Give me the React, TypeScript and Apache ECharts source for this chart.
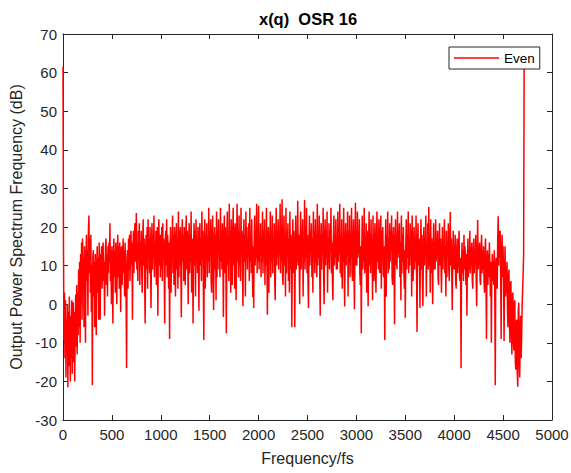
import React, { useEffect, useRef } from "react";
import * as echarts from "echarts";

// Spectrum sampled every FREQ_STEP units of frequency (x = index * step)
const FREQ_STEP = 5;
const powerDb: number[] = [
  // 0 - 195
  61.5, 14, -9.3, 3, -14, 1, -19, -4, -12, 0,
  -21.5, -2, -16, 2, -8, -20, -3, -14, 1, -18,
  -6, 0.5, -15, -2, -20, -5, 2.5, -11, 5, -13,
  3, -8, 9, -6, 11, -10, 13, 0, 16, -4,
  // 200 - 395
  17, 4, 12, -6, 15, 2, -10, 11, 18, 6,
  14, -3, 19, 23, 8, 17, 3, 18, -2, 10,
  -21, 12, 14, 2, 11, -6, 13, 4, -8, 10,
  15, 3, 12, -4, 16, 7, -4, 13, 9, 15,
  // 400 - 595
  4, 14, 16, 6, 11, -3, 9, 15, 17, 5,
  13, 2, 15, 8, 16, 11, 21, 6, 14, 0,
  15, 9, -5, 12, 17, 7, 14, 3, 16, 9,
  0, 13, 18, 7, 15, 4, 16, 10, -2, 14,
  // 600 - 795
  15, 5, 12, 17, 8, 14, 2, 16, 9, 3,
  -16.5, 12, 14, 4, 17, 9, 18, 6, 13, 19,
  10, 16, -4, 12, 19, 8, 15, 21, 11, 17,
  23.6, 9, 15, 6, 19, 12, 21, 5, 16, 10,
  // 800 - 995
  19, 8, 3, 16, 22, 10, 17, 6, -5, 14,
  18, 9, 20, 4, 22, 12, 17, 8, 20, 11,
  -1, 15, 21, 9, 18, 12, 23, 7, 16, 10,
  19, 5, 14, 20, -3, 16, 22, 10, 18, 7,
  // 1000 - 1195
  18, 9, 20, 6, 21, 12, 17, 8, -5, 15,
  19, 10, 22, 7, 18, 13, 4, 16, -9, 14,
  20, 3, 17, 12, 23, 8, 18, 5, 20, 11,
  2, 16, 21, 9, 17, 4, 24, 7, 19, 10,
  // 1200 - 1395
  20, 9, -3.4, 15, 22, 11, 18, 6, 20, 12,
  5, 17, 23, 9, 19, 13, 0, 16, 21, 8,
  18, 11, 24, 3, 17, 12, -5, 15, 21, 10,
  19, 2, 22, 12, 16, 8, 20, 11, -1.7, 18,
  // 1400 - 1595
  21, 10, 17, 6, 24, 12, 19, 5, -9.3, 16,
  22, 4, 18, 13, 21, 7, 17, 11, 25, 8,
  19, 13, 22, 6, 3, 17, 23, 10, -1.5, 15,
  20, 9, 18, 1, 24, 7, 19, 14, 22, 9,
  // 1600 - 1795
  16, 7, 25, 11, 19, 9, 21, 12, -3.3, 17,
  23, 8, 20, 13, -7.5, 15, 24, 10, 18, 6,
  26, 12, 19, 3, 22, 14, 5, 17, 25, 10,
  20, 4, 21, 13, 1, 16, 26, 11, 19, 7,
  // 1800 - 1995
  23, 10, 18, 6, 25, 13, 19, 8, -0.5, 16,
  22, 11, 18, 2, 24, 12, 20, 9, 17, 13,
  21, 6, 25, 11, 18, 8, 22, 12, 1.9, 15,
  -1, 17, 23, 10, 19, 12, 26, 8, 20, 11,
  // 2000 - 2195
  25.5, 9, 18, 13, 21, 7, 17, 11, 24, 8,
  19, 12, 22, 5, 16, 10, 25, 13, -2.7, 15,
  20, 3, 18, 14, 24, 7, 19, 11, 23, 8,
  17, 12, 21, 6, 1, 16, 25, 10, 19, 12,
  // 2200 - 2395
  22, 9, 17, 13, 26, 8, 20, 11, 27.2, 7,
  5, 16, 23, 10, 18, 2, 25, 8, 19, 14,
  21, 6, 17, 3, 24, 9, 18, 10, -6, 15,
  22, 8, 19, 12, -6, 14, 23, 9, 18, 11,
  // 2400 - 2595
  26.8, 10, 18, 12, 0, 16, 24, 9, 19, 13,
  22, 2, 17, 11, 27, 9, 20, 12, 25, 8,
  18, 6, -1, 15, 23, 10, 19, 14, 21, 7,
  17, 3, 24, 12, 19, 8, 22, 11, 16, 7,
  // 2600 - 2795
  26, 10, 18, 12, 23, 8, -3, 15, 21, 9,
  18, 13, 25, 7, 0, 16, 22, 10, 19, 12,
  24, 3, 17, 11, 21, 9, 19, 14, 25, 8,
  16, 6, 1, 17, 23, 10, 18, 12, 22, 9,
  // 2800 - 2995
  17, 9, 24, 11, 19, 13, 26, 8, 18, 7,
  22, 4, 17, 11, 25, 9, -0.6, 15, 21, 10,
  18, 14, 24, 2, 19, 11, 23, 7, 17, 12,
  25, 9, 6, 16, 22, 10, -1.3, 14, 26.3, 10,
  // 3000 - 3195
  19, 10, 24, 12, 18, 13, 22, 8, 5, 15,
  -7.5, 14, 23, 9, 18, 11, 25, 8, 17, 9,
  21, 3, 19, 14, -0.5, 16, 24, 10, 18, 8,
  22, 11, 17, 1, 23, 7, 6, 16, 21, 10,
  // 3200 - 3395
  3, 15, 24, 11, 18, 9, 22, 12, 8, 17,
  23, 4, 19, 13, 20, 8, 7, 15, -9.3, 14,
  22, 2, 18, 12, 24, 8, 17, 9, 21, 11,
  19, 14, 23, 7, 5, 16, 20, 11, -5.2, 15,
  // 3400 - 3595
  22, 10, 18, 9, 24, 12, 19, 13, 21, 7,
  16, 1, 23, 8, 18, 11, 20, 9, 4, 14,
  -3.5, 15, 22, 9, 18, 12, 24, 8, 17, 10,
  21, 13, 19, 2, 23, 11, 6, 15, 20, 9,
  // 3600 - 3795
  17, 11, 23, 8, -7.2, 14, 21, 10, 17, 12,
  -1, 15, 22, 9, 18, 7, -0.5, 14, 20, 10,
  17, 13, 23, 2, 16, 11, 21, 9, 25.2, 10,
  18, 3, 22, 8, 17, 11, 0, 14, 21, 9,
  // 3800 - 3995
  16, 9, 22, 11, 17, 13, 19, 7, 5, 14,
  21, 10, 17, 11, 3, 13, 20, 9, 16, 12,
  22, 8, 15, 2, 19, 7, 16, 13, 21, 9,
  6, 15, 23.9, 10, 17, 8, -1.5, 12, 19, 9,
  // 4000 - 4195
  15, 9, 18, 6, 4, 13, 17, 8, 11, 15,
  19, 7, 6, 12, -16.6, 10, 16, 8, 14, 6,
  18, 9, 15, 12, 5, 13, -3, 11, 17, 7,
  14, 9, 19, 8, 15, 10, 16, 6, 4, 13,
  // 4200 - 4395
  17, 8, 14, 10, 18, 6, -0.5, 12, 21.8, 9,
  15, 10, 16, 6, 5, 13, 18, 8, 14, 9,
  15, 6, 3, 12, 17, 7, -9, 11, 14, 5,
  13, 7, 16, 9, 2, 11, -10, 8, 13, 6,
  // 4400 - 4595
  11, 5, 14, 3, -21, 10, 12, 6, 4, 17,
  22.8, 10, 19, 12, 19, 8, -9, 13, 18, 7,
  15, 5, -9.5, 8, 15, 2, 10, 3, 11, -2,
  -6, 7, 9, -4, -10, 5, 6, -7, -13, 2,
  // 4600 - 4715
  3, -9, -12, 0, 1, -15, -17, -5, -4, -18,
  -21.4, -2, 0.4, -14, -19, -6, -3, -14, -8, 0,
  4, 8, 13, 61,
];

const seriesName = "Even";
const titleText = "x(q)  OSR 16";
const xAxisName = "Frequency/fs";
const yAxisName = "Output Power Spectrum Frequency (dB)";
const xRange = { min: 0, max: 5000, interval: 500 };
const yRange = { min: -30, max: 70, interval: 10 };

const FONT = '"Liberation Sans", Arial, Helvetica, sans-serif';
const AX = "#262626";

export default function App() {
  const ref = useRef<HTMLDivElement>(null);

  useEffect(() => {
    document.body.style.margin = "0";
    const chart = echarts.init(ref.current!, null, { renderer: "svg" });
    const data = powerDb.map((v, i) => [i * FREQ_STEP, v]);

    const axisLine = { show: true, onZero: false, lineStyle: { color: AX, width: 1 } };
    const axisTick = { show: true, inside: true, length: 5, lineStyle: { color: AX, width: 1 } };
    const plain = (v: number) => String(v);

    const option: any = {
      animation: false,
      backgroundColor: "#ffffff",
      grid: {
        left: 63,
        right: 19,
        top: 34,
        bottom: 53,
        containLabel: false,
        outerBoundsMode: "none",
      },
      graphic: [
        {
          type: "text",
          x: 308,
          y: 19,
          style: {
            text: titleText,
            fontFamily: FONT,
            fontSize: 16.5,
            fontWeight: "bold",
            fill: "#000000",
            align: "center",
            verticalAlign: "middle",
          },
        },
      ],
      legend: {
        show: true,
        data: [seriesName],
        left: 449,
        top: 47,
        orient: "vertical",
        icon: "rect",
        itemWidth: 45,
        itemHeight: 1.5,
        padding: [3, 5, 3, 5],
        borderColor: AX,
        borderWidth: 1,
        borderRadius: 0,
        backgroundColor: "#ffffff",
        selectedMode: false,
        textStyle: {
          fontFamily: FONT,
          fontSize: 13.5,
          color: "#000000",
          lineHeight: 16,
        },
      },
      xAxis: [
        {
          type: "value",
          position: "bottom",
          ...xRange,
          axisLine,
          axisTick,
          splitLine: { show: false },
          axisLabel: { color: AX, fontFamily: FONT, fontSize: 15, margin: 7, formatter: plain },
          name: xAxisName,
          nameLocation: "middle",
          nameGap: 30,
          nameTextStyle: { color: AX, fontFamily: FONT, fontSize: 16 },
        },
        {
          type: "value",
          position: "top",
          ...xRange,
          axisLine,
          axisTick,
          splitLine: { show: false },
          axisLabel: { show: false },
        },
      ],
      yAxis: [
        {
          type: "value",
          position: "left",
          ...yRange,
          axisLine,
          axisTick,
          splitLine: { show: false },
          axisLabel: { color: AX, fontFamily: FONT, fontSize: 15, margin: 6, formatter: plain },
          name: yAxisName,
          nameLocation: "middle",
          nameGap: 28,
          nameTextStyle: { color: AX, fontFamily: FONT, fontSize: 16 },
        },
        {
          type: "value",
          position: "right",
          ...yRange,
          axisLine,
          axisTick,
          splitLine: { show: false },
          axisLabel: { show: false },
        },
      ],
      series: [
        {
          name: seriesName,
          type: "line",
          xAxisIndex: 0,
          yAxisIndex: 0,
          data,
          symbol: "none",
          showSymbol: false,
          silent: true,
          clip: true,
          lineStyle: { color: "#ff0000", width: 1.5, join: "bevel" },
          itemStyle: { color: "#ff0000" },
        },
      ],
    };

    chart.setOption(option);
    return () => chart.dispose();
  }, []);

  return (
    <div
      ref={ref}
      style={{ position: "absolute", left: 0, top: 0, width: 571, height: 473 }}
    />
  );
}
